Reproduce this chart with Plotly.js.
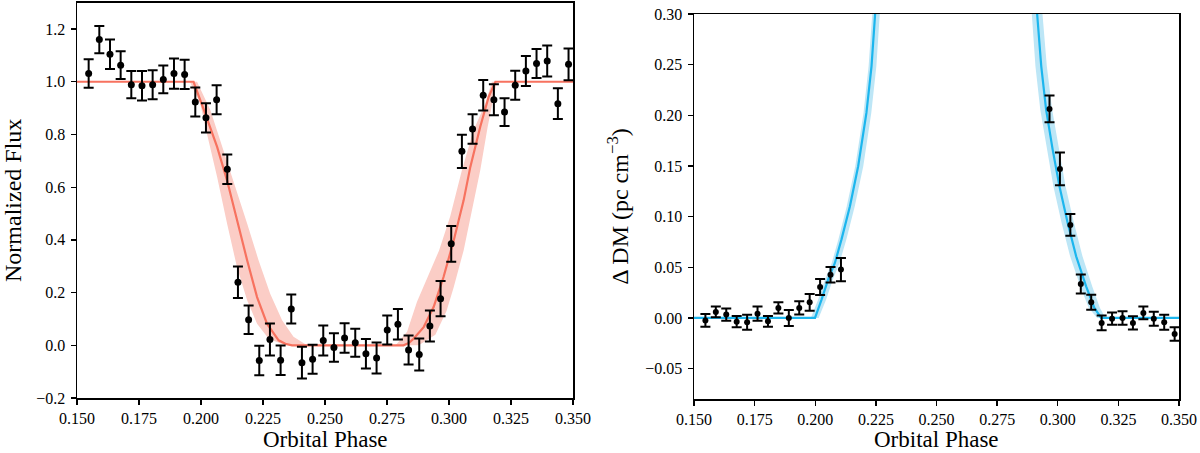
<!DOCTYPE html>
<html>
<head>
<meta charset="utf-8">
<script src="https://cdn.plot.ly/plotly-3.0.1.min.js"></script>
<style>html,body{margin:0;padding:0;background:#fff;}#chart{width:1200px;height:453px;}</style>
</head>
<body>
<div id="chart"></div>
<script>
// ---------- Left panel: normalized flux ----------
const phase = [0.1547,0.1590,0.1633,0.1676,0.1719,0.1762,0.1805,0.1848,0.1891,0.1934,
  0.1977,0.2020,0.2063,0.2106,0.2149,0.2192,0.2235,0.2278,0.2321,0.2364,
  0.2407,0.2450,0.2493,0.2536,0.2579,0.2622,0.2665,0.2708,0.2751,0.2794,
  0.2837,0.2880,0.2923,0.2966,0.3009,0.3052,0.3095,0.3138,0.3181,0.3224,
  0.3267,0.3310,0.3353,0.3396,0.3439,0.3482];
const flux = [1.031,1.160,1.104,1.063,0.989,0.985,0.989,1.009,1.031,1.028,
  0.923,0.863,0.932,0.668,0.239,0.097,-0.058,0.022,-0.057,0.138,
  -0.066,-0.053,0.018,-0.008,0.028,0.010,-0.032,-0.048,0.058,0.080,
  -0.018,-0.035,0.073,0.177,0.385,0.736,0.821,0.949,0.932,0.885,
  0.987,1.041,1.069,1.079,0.917,1.066];
const fluxErr = [0.054,0.052,0.056,0.0525,0.052,0.056,0.055,0.0525,0.0575,0.0557,
  0.055,0.0557,0.055,0.0563,0.060,0.054,0.056,0.061,0.056,0.055,
  0.060,0.055,0.057,0.054,0.056,0.053,0.056,0.059,0.055,0.058,
  0.055,0.061,0.059,0.067,0.068,0.063,0.056,0.058,0.059,0.0525,
  0.055,0.057,0.055,0.059,0.058,0.060];

const fluxModelX = [0.150,0.1970,0.2017,0.2065,0.2105,0.2145,0.2186,0.2226,0.2266,0.2313,0.2340,0.2367,
  0.2817,0.2840,0.2857,0.2898,0.2938,0.2978,0.3019,0.3059,0.3086,0.3126,0.3160,0.3187,0.350];
const fluxModelY = [1,1,0.879,0.753,0.626,0.474,0.323,0.183,0.082,0.019,0.006,0.0,
  0.0,0.010,0.025,0.069,0.145,0.259,0.398,0.550,0.677,0.829,0.943,1.0,1.0];

const ingBandLoX = [0.1955,0.1997,0.2024,0.2065,0.2105,0.2145,0.2186,0.2226,0.2273,0.2340];
const ingBandLoY = [1.0,0.917,0.803,0.639,0.462,0.297,0.171,0.082,0.025,0.0];
const ingBandHiX = [0.1984,0.2038,0.2091,0.2138,0.2186,0.2232,0.2279,0.2327,0.2373,0.2421,0.2480];
const ingBandHiY = [1.0,0.892,0.740,0.601,0.462,0.323,0.196,0.095,0.032,0.004,0.0];

const egrBandHiX = [0.2785,0.2831,0.2871,0.2911,0.2960,0.3005,0.3052,0.3099,0.3146,0.3173];
const egrBandHiY = [0.0,0.051,0.165,0.250,0.360,0.490,0.664,0.816,0.917,1.0];
const egrBandLoX = [0.2878,0.2945,0.2990,0.3019,0.3059,0.3096,0.3126,0.3156,0.3180,0.3193];
const egrBandLoY = [0.0,0.040,0.130,0.220,0.360,0.530,0.664,0.829,0.943,1.0];

// ---------- Right panel: delta DM ----------
const dmPhaseIn = phase.slice(0,14);
const dmIn = [-0.0024,0.0059,0.0033,-0.0037,-0.0043,0.0042,-0.0033,0.0099,0.0,0.0099,
  0.0154,0.0306,0.0427,0.0477];
const dmInErr = [0.0063,0.0053,0.006,0.0056,0.0074,0.007,0.0053,0.0056,0.0079,0.0066,
  0.0082,0.0079,0.0077,0.0115];
const dmPhaseEg = phase.slice(33);
const dmEg = [0.2063,0.1471,0.0918,0.0336,0.0154,-0.0049,-0.0007,0.0,-0.0049,0.0049,
  -0.0007,-0.0043,-0.0158];
const dmEgErr = [0.0132,0.0161,0.0107,0.0094,0.0074,0.0072,0.006,0.0066,0.0066,0.0063,
  0.0069,0.0074,0.0066];

const dmModelInX = [0.150,0.1999,0.2026,0.2053,0.2081,0.2108,0.2143,0.2177,0.2211,0.2232,0.2247];
const dmModelInY = [0,0,0.0181,0.0378,0.0543,0.0773,0.1102,0.1497,0.2024,0.2484,0.3004];
const dmModelEgX = [0.2915,0.2932,0.2952,0.2979,0.3007,0.3041,0.3076,0.3117,0.3151,0.3179,0.350];
const dmModelEgY = [0.30,0.2484,0.2056,0.1661,0.1299,0.0938,0.0608,0.0312,0.0099,0.0,0.0];

const dmInBandLoX = [0.1982,0.2012,0.2040,0.2068,0.2095,0.2130,0.2165,0.2199,0.2220,0.2235];
const dmInBandLoY = [0,0.0181,0.0378,0.0543,0.0773,0.1102,0.1497,0.2024,0.2484,0.3];
const dmInBandHiX = [0.2014,0.2045,0.2072,0.2100,0.2128,0.2163,0.2198,0.2231,0.2252,0.2266];
const dmInBandHiY = [0,0.0181,0.0378,0.0543,0.0773,0.1102,0.1497,0.2024,0.2484,0.3];
const dmEgBandLoX = [0.2893,0.2908,0.2928,0.2955,0.2982,0.3016,0.3051,0.3093,0.3128,0.3163];
const dmEgBandLoY = [0.30,0.2484,0.2056,0.1661,0.1299,0.0938,0.0608,0.0312,0.0099,0];
const dmEgBandHiX = [0.2937,0.2955,0.2977,0.3005,0.3032,0.3067,0.3102,0.3142,0.3174,0.3197];
const dmEgBandHiY = [0.30,0.2484,0.2056,0.1661,0.1299,0.0938,0.0608,0.0312,0.0099,0];

const xTicks = [0.150,0.175,0.200,0.225,0.250,0.275,0.300,0.325,0.350];
const xTitle = 'Orbital Phase';

// ---------- build ----------
function poly(ax, ay, bx, by){
  return {x: ax.concat(bx.slice().reverse()), y: ay.concat(by.slice().reverse())};
}
const pink = '#fbcdc6', salmon = '#f7725f', lblue = '#bde6f6', blue = '#1cb6ee';
const p1 = poly(ingBandLoX, ingBandLoY, ingBandHiX, ingBandHiY);
const p2 = poly(egrBandHiX, egrBandHiY, egrBandLoX, egrBandLoY);
const p3 = poly(dmInBandLoX, dmInBandLoY, dmInBandHiX, dmInBandHiY);
const p4 = poly(dmEgBandLoX, dmEgBandLoY, dmEgBandHiX, dmEgBandHiY);

function band(p, color, xa, ya){
  return {x:p.x, y:p.y, xaxis:xa, yaxis:ya, type:'scatter', mode:'lines', fill:'toself',
    fillcolor:color, line:{width:0, color:color}, hoverinfo:'skip', showlegend:false};
}
function line(x, y, color, xa, ya){
  return {x:x, y:y, xaxis:xa, yaxis:ya, type:'scatter', mode:'lines',
    line:{color:color, width:2.2}, showlegend:false};
}
function pts(x, y, e, xa, ya, size){
  return {x:x, y:y, xaxis:xa, yaxis:ya, type:'scatter', mode:'markers',
    marker:{color:'black', size:size},
    error_y:{type:'data', array:e, visible:true, color:'black', thickness:2, width:5},
    showlegend:false};
}

const traces = [
  band(p1, pink, 'x', 'y'), band(p2, pink, 'x', 'y'),
  line(fluxModelX, fluxModelY, salmon, 'x', 'y'),
  pts(phase, flux, fluxErr, 'x', 'y', 7),
  band(p3, lblue, 'x2', 'y2'), band(p4, lblue, 'x2', 'y2'),
  line(dmModelInX, dmModelInY, blue, 'x2', 'y2'),
  line(dmModelEgX, dmModelEgY, blue, 'x2', 'y2'),
  pts(dmPhaseIn, dmIn, dmInErr, 'x2', 'y2', 6),
  pts(dmPhaseEg, dmEg, dmEgErr, 'x2', 'y2', 6)
];

const fam = '"Liberation Serif", "DejaVu Serif", serif';
const font = {family:fam, color:'black', size:16};
const titleFont = {family:fam, size:24, color:'black'};
const xTitleFont = {family:fam, size:23, color:'black'};
const axBase = {showline:true, linecolor:'black', linewidth:1.5, mirror:true, ticks:'outside',
  ticklen:5, tickwidth:1.3, tickcolor:'black', showgrid:false, zeroline:false,
  tickfont:{family:fam, size:16, color:'black'}};

function xTitleAnn(xref){
  return {xref:xref, yref:'paper', x:0.5, y:0, xanchor:'center', yanchor:'bottom',
    yshift:0, borderpad:0, text:xTitle, showarrow:false, font:xTitleFont};
}

const layout = {
  width:1200, height:453, margin:{l:0, r:0, t:0, b:0},
  paper_bgcolor:'white', plot_bgcolor:'white', font:font, showlegend:false,
  xaxis: Object.assign({}, axBase, {domain:[77/1200, 573/1200], range:[0.150,0.350],
    tickvals:xTicks, tickformat:'.3f', anchor:'y'}),
  yaxis: Object.assign({}, axBase, {domain:[55/453, 450.3/453], range:[-0.2,1.3],
    tickvals:[-0.2,0,0.2,0.4,0.6,0.8,1.0,1.2], tickformat:'.1f', anchor:'x', ticklabelstandoff:2,
    title:{text:'Normalized Flux', font:titleFont, standoff:14}}),
  xaxis2: Object.assign({}, axBase, {domain:[694/1200, 1179/1200], range:[0.150,0.350],
    tickvals:xTicks, tickformat:'.3f', anchor:'y2'}),
  yaxis2: Object.assign({}, axBase, {domain:[54/453, 439/453], range:[-0.08,0.30],
    tickvals:[-0.05,0,0.05,0.10,0.15,0.20,0.25,0.30], tickformat:'.2f', anchor:'x2', ticklabelstandoff:2,
    title:{text:'Δ DM (pc cm<sup>−3</sup>)', font:titleFont, standoff:10}}),
  annotations:[xTitleAnn('x domain'), xTitleAnn('x2 domain')]
};

Plotly.newPlot('chart', traces, layout, {displayModeBar:false, staticPlot:true});
</script>
</body>
</html>
